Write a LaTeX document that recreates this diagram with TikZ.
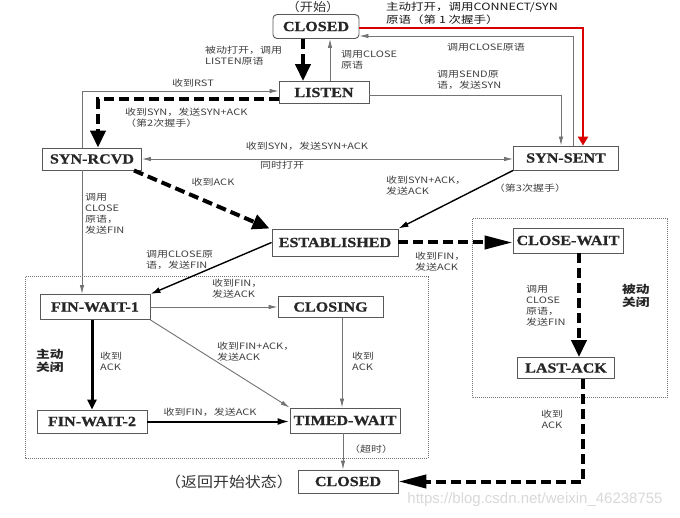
\documentclass[tikz,border=0pt]{standalone}
\usepackage{fontspec}
\usetikzlibrary{arrows.meta,calc}
\newfontfamily\cjk[FakeStretch=1.25]{Noto Sans CJK SC}
\newfontfamily\cjkbig[FakeStretch=1.1]{Noto Sans CJK SC}
\newfontfamily\boxfont[FakeStretch=1.15,FakeBold=0.8]{Liberation Serif}
\newfontfamily\wmfont{Liberation Sans}
\tikzset{
  st/.style={draw=black!65, line width=0.9pt, fill=white, inner sep=0pt,
    font=\boxfont\bfseries\fontsize{14}{14}\selectfont, text=black!85},
  lbl/.style={font=\cjk\fontsize{8.8}{11}\selectfont, text=black!75, inner sep=0pt, align=left},
  lblc/.style={lbl, align=center},
  bigbold/.style={font=\cjk\bfseries\fontsize{11}{13}\selectfont, text=black!85, inner sep=0pt, align=left},
  grayarr/.style={draw=black!55, line width=0.9pt, -{Latex[length=9pt,width=4.5pt]}},
  grayboth/.style={draw=black!55, line width=0.9pt, {Latex[length=9pt,width=4.5pt]}-{Latex[length=9pt,width=4.5pt]}},
  blackarr/.style={draw=black, line width=1.4pt, -{Latex[length=10pt,width=6pt]}},
  thickblack/.style={draw=black, line width=3pt, -{Triangle[length=10pt,width=9pt]}},
  medblack/.style={draw=black, line width=2pt, -{Latex[length=12pt,width=7pt]}},
  thickdash/.style={draw=black, line width=4pt, dash pattern=on 10pt off 5pt, -{Triangle[length=17pt,width=15pt]}},
  thickdashH/.style={draw=black, line width=4pt, dash pattern=on 10pt off 5pt, -{Triangle[length=28pt,width=13pt]}},
  redarr/.style={draw=red!85!black, line width=2.6pt, -{Triangle[length=9pt,width=10pt]}},
  dotbox/.style={draw=black!55, line width=1pt, dash pattern=on 1pt off 1pt},
}
\begin{document}
\begin{tikzpicture}[x=1pt,y=-1pt]
\useasboundingbox[fill=white] (0,0) rectangle (680,518);

% dotted group boxes
\draw[dotbox] (25,277) rectangle (428,458);
\draw[dotbox] (472,219) rectangle (667,398);

% states
\node[st, minimum width=86pt, minimum height=24pt, rounded corners=4pt] (closedtop) at (316,26.5) {CLOSED};
\node[st, minimum width=90pt, minimum height=22pt] (listen) at (324,92.5) {LISTEN};
\node[st, minimum width=99pt, minimum height=22pt] (synrcvd) at (92,159) {SYN-RCVD};
\node[st, minimum width=105pt, minimum height=24pt] (synsent) at (566,158) {SYN-SENT};
\node[st, minimum width=126pt, minimum height=27pt] (established) at (335,242.5) {ESTABLISHED};
\node[st, minimum width=110pt, minimum height=25pt] (closewait) at (568,240.5) {CLOSE-WAIT};
\node[st, minimum width=97pt, minimum height=21pt] (lastack) at (566,368) {LAST-ACK};
\node[st, minimum width=110pt, minimum height=25pt] (finwait1) at (95,307) {FIN-WAIT-1};
\node[st, minimum width=105pt, minimum height=21pt] (closing) at (330.5,307) {CLOSING};
\node[st, minimum width=110pt, minimum height=23pt] (finwait2) at (92,421.5) {FIN-WAIT-2};
\node[st, minimum width=110pt, minimum height=25pt] (timedwait) at (345,420.5) {TIMED-WAIT};
\node[st, minimum width=100pt, minimum height=23pt] (closedbot) at (348,481.5) {CLOSED};

% connectors
\draw[thickdash] (303,0 |- closedtop.south) -- (303,0 |- listen.north);
\draw[grayarr] (330,0 |- listen.north) -- (330,0 |- closedtop.south);
\draw[redarr] (closedtop.east |- 0,28) -| (583,0 |- synsent.north);
\draw[grayarr] (573,0 |- synsent.north) |- (closedtop.east |- 0,36);
\draw[grayarr] (listen.east |- 0,95) -| (561,0 |- synsent.north);
\draw[grayarr] (82,0 |- synrcvd.north) |- (listen.west |- 0,91);
\draw[thickdash] (listen.west |- 0,99.5) -| (98,0 |- synrcvd.north);
\draw[grayboth] (synrcvd.east) -- (synrcvd.east -| synsent.west);
\draw[thickdash] ([xshift=-8pt]synrcvd.south east) -- ([xshift=-2pt]established.north west);
\draw[blackarr] (synsent.south west) -- (established.north east);
\draw[grayarr] (82,0 |- synrcvd.south) -- (82,0 |- finwait1.north);
\draw[blackarr] (established.west) -- (finwait1.north east);
\draw[thickdashH] (established.east) -- (established.east -| closewait.west);
\draw[thickdash] (579,0 |- closewait.south) -- (579,0 |- lastack.north);
\draw[thickdashH] (583,0 |- lastack.south) |- (closedbot.east);
\draw[grayarr] (finwait1.east) -- (finwait1.east -| closing.west);
\draw[grayarr] (finwait1.south east) -- (timedwait.north west);
\draw[grayarr] (342,0 |- closing.south) -- (342,0 |- timedwait.north);
\draw[thickblack] (92,0 |- finwait1.south) -- (92,0 |- finwait2.north);
\draw[medblack] (finwait2.east) -- (finwait2.east -| timedwait.west);
\draw[grayarr] (343,0 |- timedwait.south) -- (343,0 |- closedbot.north);

% labels
\node[font=\cjkbig\fontsize{12}{13}\selectfont, text=black!80, inner sep=0pt] (tstart) at (313,7) {（开始）};
\node[font=\cjk\fontsize{10}{12.5}\selectfont, text=black!90, inner sep=0pt, align=left, anchor=west] (tconnect) at (386,13.5) {主动打开，调用CONNECT/SYN\\原语（第 1 次握手）};
\node[lbl, anchor=west] (tpassive) at (205,56) {被动打开，调用\\LISTEN原语};
\node[lbl, anchor=west] (tclose1) at (341,60) {调用CLOSE\\原语};
\node[lbl] (tclose2) at (486,47) {调用CLOSE原语};
\node[lbl, anchor=west] (tsend) at (437,80) {调用SEND原\\语，发送SYN};
\node[lbl] (trst) at (193,83) {收到RST};
\node[lbl, anchor=west] (tsyn2) at (125,118) {收到SYN，发送SYN+ACK\\（第2次握手）};
\node[lbl] (tsynsim) at (307,146) {收到SYN，发送SYN+ACK};
\node[lbl] (tsim) at (282,165) {同时打开};
\node[lbl] (tack1) at (213,182) {收到ACK};
\node[lbl, anchor=west] (tclosefin1) at (85,214) {调用\\CLOSE\\原语，\\发送FIN};
\node[lbl, anchor=west] (tsynack) at (386,186) {收到SYN+ACK，\\发送ACK};
\node[lbl] (tthird) at (530,188) {（第3次握手）};
\node[lbl, anchor=west] (tclosefin2) at (146,260) {调用CLOSE原\\语，发送FIN};
\node[lbl, anchor=west] (tfinack1) at (415,262) {收到FIN，\\发送ACK};
\node[lbl, anchor=west] (tclosefin3) at (526,306) {调用\\CLOSE\\原语，\\发送FIN};
\node[bigbold, anchor=west] (tpclose) at (622,296) {被动\\关闭};
\node[lblc] (tack2) at (552,419) {收到\\ACK};
\node[lbl, anchor=west] (tfinack2) at (212,289) {收到FIN，\\发送ACK};
\node[lbl, anchor=west] (tfinack3) at (217,352) {收到FIN+ACK，\\发送ACK};
\node[bigbold, anchor=west] (taclose) at (36,361) {主动\\关闭};
\node[lbl, anchor=west] (tack3) at (100,361) {收到\\ACK};
\node[lbl, anchor=west] (tack4) at (352,361) {收到\\ACK};
\node[lbl] (tfinack4) at (210,412) {收到FIN，发送ACK};
\node[lbl] (ttimeout) at (371,449) {（超时）};
\node[font=\cjkbig\fontsize{14.5}{16}\selectfont, text=black!80, inner sep=0pt] (treturn) at (229,482) {（返回开始状态）};
\node[font=\wmfont\fontsize{15}{17}\selectfont, text=black!15, inner sep=0pt] (wm) at (535,500) {https://blog.csdn.net/weixin\_46238755};
\end{tikzpicture}
\end{document}
